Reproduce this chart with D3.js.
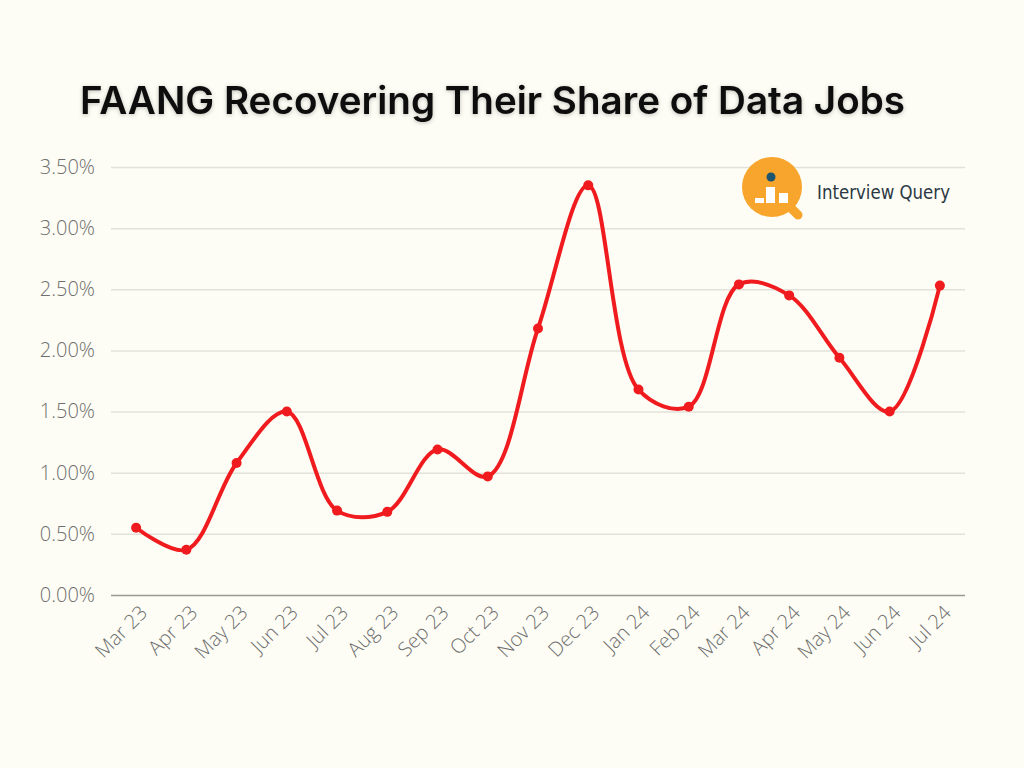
<!DOCTYPE html>
<html>
<head>
<meta charset="utf-8">
<script src="https://cdn.jsdelivr.net/npm/d3@7"></script>
<style>
  html, body { margin: 0; padding: 0; background: #fdfdf5; }
  svg { display: block; }
</style>
</head>
<body>
<svg id="chart" width="1024" height="768"></svg>
<script>
// data
var months = ["Mar 23", "Apr 23", "May 23", "Jun 23", "Jul 23", "Aug 23", "Sep 23", "Oct 23",
              "Nov 23", "Dec 23", "Jan 24", "Feb 24", "Mar 24", "Apr 24", "May 24", "Jun 24", "Jul 24"];
var shares = [0.55, 0.37, 1.08, 1.50, 0.69, 0.68, 1.19, 0.97,
              2.18, 3.35, 1.68, 1.54, 2.54, 2.45, 1.94, 1.50, 2.53];
var yTicks = [0, 0.5, 1, 1.5, 2, 2.5, 3, 3.5];

var svg = d3.select("#chart");
var plotLeft = 111, plotRight = 965, plotTop = 167, plotBottom = 595;

var x = d3.scalePoint().domain(months).range([plotLeft, plotRight]).padding(0.5);
var y = d3.scaleLinear().domain([0, 3.5]).range([plotBottom, plotTop]);

// soft shadow for the title
var defs = svg.append("defs");
var f = defs.append("filter").attr("id", "shadow").attr("x", "-5%").attr("y", "-30%")
  .attr("width", "110%").attr("height", "160%");
f.append("feDropShadow").attr("dx", 0).attr("dy", 1).attr("stdDeviation", 2)
  .attr("flood-color", "#000").attr("flood-opacity", 0.25);

svg.append("text")
  .attr("x", 80).attr("y", 114)
  .attr("font-family", "Inter, 'Liberation Sans', sans-serif")
  .attr("font-weight", 600)
  .attr("font-size", 38)
  .attr("fill", "#0a0a0a")
  .attr("filter", "url(#shadow)")
  .attr("textLength", 825)
  .attr("lengthAdjust", "spacingAndGlyphs")
  .text("FAANG Recovering Their Share of Data Jobs");

// gridlines + y labels
var yAxis = d3.axisLeft(y).tickValues(yTicks)
  .tickSize(-(plotRight - plotLeft)).tickPadding(16)
  .tickFormat(function(d) { return d3.format(".2f")(d) + "%"; });

var gy = svg.append("g").attr("transform", "translate(" + plotLeft + ",0)").call(yAxis);
gy.select(".domain").remove();
gy.selectAll(".tick line")
  .attr("stroke", function(d) { return d === 0 ? "#9a9a94" : "#e2e2da"; })
  .attr("stroke-width", 1.5);
gy.selectAll(".tick text")
  .attr("font-family", "'Open Sans', sans-serif")
  .attr("font-weight", 300)
  .attr("font-size", 20)
  .attr("fill", "#6e6e6e");

// x labels
var xAxis = d3.axisBottom(x).tickSize(0).tickPadding(0);
var gx = svg.append("g").attr("transform", "translate(0," + plotBottom + ")").call(xAxis);
gx.select(".domain").remove();
gx.selectAll(".tick text")
  .attr("font-family", "'Open Sans', sans-serif")
  .attr("font-weight", 300)
  .attr("font-size", 20)
  .attr("fill", "#6e6e6e")
  .attr("text-anchor", "end")
  .attr("dy", 0)
  .attr("transform", "translate(12,19) rotate(-45)");

// line
var line = d3.line()
  .x(function(d, i) { return x(months[i]); })
  .y(function(d) { return y(d); })
  .curve(d3.curveCatmullRom.alpha(0.5));

svg.append("path")
  .datum(shares)
  .attr("d", line)
  .attr("fill", "none")
  .attr("stroke", "#f01b1e")
  .attr("stroke-width", 4)
  .attr("stroke-linejoin", "round");

svg.append("g").selectAll("circle")
  .data(shares)
  .join("circle")
  .attr("cx", function(d, i) { return x(months[i]); })
  .attr("cy", function(d) { return y(d); })
  .attr("r", 5)
  .attr("fill", "#f01b1e");

// logo
var logo = svg.append("g").attr("transform", "translate(772,187)");
logo.append("line").attr("x1", 14).attr("y1", 16).attr("x2", 26).attr("y2", 28)
  .attr("stroke", "#f7a52c").attr("stroke-width", 9).attr("stroke-linecap", "round");
logo.append("circle").attr("r", 30).attr("fill", "#f7a52c");
logo.append("circle").attr("cx", -1).attr("cy", -10).attr("r", 4.5).attr("fill", "#1d5470");
logo.append("rect").attr("x", -17).attr("y", 11).attr("width", 9).attr("height", 5).attr("fill", "#fff");
logo.append("rect").attr("x", -6).attr("y", 0).attr("width", 9).attr("height", 16).attr("fill", "#fff");
logo.append("rect").attr("x", 7).attr("y", 6).attr("width", 9).attr("height", 10).attr("fill", "#fff");

svg.append("text")
  .attr("x", 817).attr("y", 199)
  .attr("font-family", "'DejaVu Sans Condensed', 'DejaVu Sans', sans-serif")
  .attr("font-stretch", "condensed")
  .attr("font-size", 19)
  .attr("fill", "#2b3844")
  .attr("textLength", 133)
  .attr("lengthAdjust", "spacingAndGlyphs")
  .text("Interview Query");
</script>
</body>
</html>
